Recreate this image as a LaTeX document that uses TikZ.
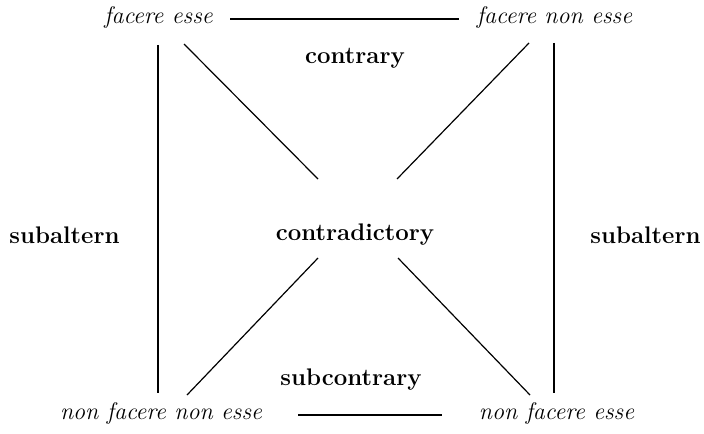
\documentclass[tikz,border=0pt]{standalone}
\usepackage{tikz}

\begin{document}
\begin{tikzpicture}[
  x=0.5pt, y=-0.5pt,
  font=\large,
  term/.style={font=\large\itshape, inner sep=0pt},
  rel/.style={font=\large\bfseries, inner sep=0pt},
  edge/.style={line width=0.6pt}
]
\useasboundingbox (0,0) rectangle (704,433);
% corner terms
\node[term] (fe)   at (158.5,18)  {facere esse};
\node[term] (fne)  at (554.5,18)  {facere non esse};
\node[term] (nfne) at (161,413)   {non facere non esse};
\node[term] (nfe)  at (556.5,413) {non facere esse};
% relation labels
\node[rel] (contrary)      at (355,58)   {contrary};
\node[rel] (contradictory) at (355,235)  {contradictory};
\node[rel] (subcontrary)   at (351,380)  {subcontrary};
\node[rel] (subalternL)    at (64.5,235) {subaltern};
\node[rel] (subalternR)    at (645.5,235) {subaltern};
% line ends
\coordinate (topL) at (230,19);  \coordinate (topR) at (459,19);
\coordinate (botL) at (298,415); \coordinate (botR) at (442,415);
\coordinate (leftT) at (158,45); \coordinate (leftB) at (158,393);
\coordinate (rightT) at (554,43); \coordinate (rightB) at (554,393);
\coordinate (d1a) at (184,44);  \coordinate (d1b) at (318,179);
\coordinate (d2a) at (529,43);  \coordinate (d2b) at (397,179);
\coordinate (d3a) at (318,258); \coordinate (d3b) at (187,395);
\coordinate (d4a) at (398,258); \coordinate (d4b) at (530,395);
% square of opposition
\draw[edge] (topL) -- (topR);
\draw[edge] (botL) -- (botR);
\draw[edge] (leftT) -- (leftB);
\draw[edge] (rightT) -- (rightB);
\draw[edge] (d1a) -- (d1b);
\draw[edge] (d2a) -- (d2b);
\draw[edge] (d3a) -- (d3b);
\draw[edge] (d4a) -- (d4b);
\end{tikzpicture}
\end{document}
